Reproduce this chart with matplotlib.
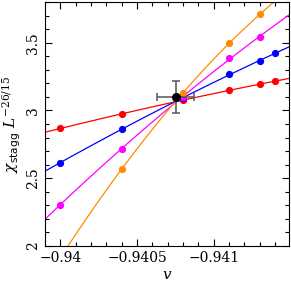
import numpy as np
import matplotlib
matplotlib.use("Agg")
import matplotlib.pyplot as plt
from matplotlib.ticker import MultipleLocator, FixedLocator, FixedFormatter

plt.rcParams['font.family'] = 'DejaVu Serif'
plt.rcParams['mathtext.fontset'] = 'dejavuserif'

# couplings v and scaled susceptibilities for each lattice size
v_red = [-0.9400, -0.9404, -0.9408, -0.9411, -0.9413, -0.9414]
chi_red = [2.867, 2.976, 3.074, 3.150, 3.195, 3.215]
v_blue = [-0.9400, -0.9404, -0.9408, -0.9411, -0.9413, -0.9414]
chi_blue = [2.615, 2.864, 3.090, 3.267, 3.368, 3.422]
v_mag = [-0.9400, -0.9404, -0.9408, -0.9411, -0.9413]
chi_mag = [2.306, 2.719, 3.100, 3.385, 3.543]
v_orange = [-0.9404, -0.9408, -0.9411, -0.9413]
chi_orange = [2.568, 3.131, 3.496, 3.709]

# crossing estimate
v_c, v_c_err = -0.940752, 0.00012
chi_c, chi_c_err = 3.099, 0.12

series = [(v_red, chi_red, '#ff0000'),
          (v_blue, chi_blue, '#0000ff'),
          (v_mag, chi_mag, '#ff00ff'),
          (v_orange, chi_orange, '#ff8c00')]

fig = plt.figure(figsize=(2.91, 2.83), dpi=100)
ax = fig.add_axes([45/291, 1-246/283, 244/291, 244/283])

xlo, xhi = -0.93990, -0.94149
xx = np.linspace(xlo, xhi, 200)
for v, chi, col in series:
    v = np.array(v); chi = np.array(chi)
    p = np.polyfit(v - v.mean(), chi, 2)
    ax.plot(xx, np.polyval(p, xx - v.mean()), color=col, lw=0.9)
    ax.plot(v, chi, 'o', color=col, ms=4.2, mec=col)

ax.errorbar([v_c], [chi_c], xerr=[v_c_err], yerr=[chi_c_err], fmt='o',
            color='black', ms=5.5, ecolor='#555555', elinewidth=1.1,
            capsize=3, capthick=1.1, zorder=5)

ax.set_xlim(xlo, xhi)
ax.set_ylim(2, 3.8)

ax.xaxis.set_major_locator(FixedLocator([-0.94, -0.9405, -0.941]))
ax.xaxis.set_major_formatter(FixedFormatter(['\u22120.94', '\u22120.9405', '\u22120.941']))
ax.xaxis.set_minor_locator(MultipleLocator(0.0001))
ax.yaxis.set_major_locator(MultipleLocator(0.5))
ax.yaxis.set_minor_locator(MultipleLocator(0.1))
ax.set_yticks([2, 2.5, 3, 3.5])
ax.set_yticklabels(['2', '2.5', '3', '3.5'], rotation=90, va='center')

ax.tick_params(which='both', direction='in', top=True, right=True, labelsize=10)
ax.tick_params(which='major', length=5, width=0.8)
ax.tick_params(which='minor', length=3, width=0.8)

ax.set_xlabel('$v$', fontsize=11, labelpad=2)
ax.set_ylabel(r'$\chi_{\mathsf{stagg}}\ L^{-26/15}$', fontsize=11, labelpad=2)

fig.savefig('out.png', dpi=100)
